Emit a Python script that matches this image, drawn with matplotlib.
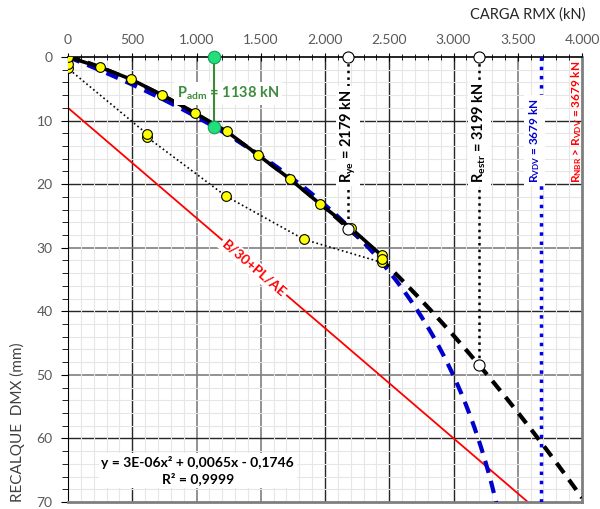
import numpy as np
import matplotlib
matplotlib.use('Agg')
import matplotlib.pyplot as plt
from matplotlib.ticker import MultipleLocator, FuncFormatter

plt.rcParams['font.family'] = ['Lato', 'DejaVu Sans']
plt.rcParams['mathtext.fontset'] = 'custom'
plt.rcParams['mathtext.rm'] = 'Lato:bold'
plt.rcParams['mathtext.it'] = 'Lato:bold'
plt.rcParams['mathtext.bf'] = 'Lato:bold'
plt.rcParams['mathtext.default'] = 'rm'

# ensaio - carregamento
load_up = [0, 250, 490, 735, 988, 1235, 1478, 1728, 1960, 2200, 2440, 2440]
settle_up = [0.0, 1.6, 3.5, 6.0, 8.8, 11.7, 15.4, 19.2, 23.1, 26.9, 31.2, 31.8]
# descarregamento
load_down = [2440, 1837, 1230, 615, 615, 0, 0]
settle_down = [32.3, 28.7, 21.9, 12.6, 12.1, 1.8, 1.1]

# linha de tendencia (polinomial) e Van der Veen
fit_coef = [2.72e-6, 0.0065, -0.1746]
R_vdv = 3679
a_vdv = 0.0337

# reta B/30 + PL/AE
dav_load = [0, 4000]
dav_settle = [8.0, 77.3]

P_adm = 1138
s_adm = 11.0
R_ye, s_ye = 2179, 27.1
R_estr, s_estr = 3199, 48.5

fig = plt.figure(figsize=(6.0, 5.09), dpi=100)
ax = fig.add_axes([68/600, 1-502/509, 514/600, 445/509])

ax.set_xlim(0, 4000)
ax.set_ylim(70, 0)

# grades
ax.xaxis.set_major_locator(MultipleLocator(500))
ax.xaxis.set_minor_locator(MultipleLocator(100))
ax.yaxis.set_major_locator(MultipleLocator(10))
ax.yaxis.set_minor_locator(MultipleLocator(2))
ax.grid(which='minor', color='#e6e6e6', lw=0.8, zorder=0)
for v in [500, 2000, 2500, 3000]:
    ax.axvline(v, color='#262626', lw=1.0, zorder=0.5)
for v in [1000, 1500, 3500]:
    ax.axvline(v, color='#7f7f7f', lw=1.2, zorder=0.5)
for v in [10, 20, 40, 60]:
    ax.axhline(v, color='#262626', lw=1.0, zorder=0.5)
for v in [30, 50]:
    ax.axhline(v, color='#7f7f7f', lw=1.2, zorder=0.5)

ax.xaxis.tick_top()
ax.xaxis.set_major_formatter(FuncFormatter(lambda v, p: f'{v:,.0f}'.replace(',', '.')))
ax.tick_params(axis='x', which='both', direction='inout', colors='#000000',
               labelcolor='#595959', labelsize=10, pad=5)
ax.tick_params(axis='x', which='major', length=6)
ax.tick_params(axis='x', which='minor', length=5)
ax.tick_params(axis='y', which='both', direction='out', labelcolor='#595959', labelsize=10, pad=6)
ax.tick_params(axis='y', which='major', length=5)
ax.tick_params(axis='y', which='minor', length=4)

ax.spines['top'].set_color('black')
ax.spines['top'].set_linewidth(1.2)
ax.spines['left'].set_color('black')
ax.spines['right'].set_color('#7f7f7f')
ax.spines['right'].set_linewidth(2)
ax.spines['bottom'].set_color('#7f7f7f')
ax.spines['bottom'].set_linewidth(2)

ax.set_ylabel('RECALQUE  DMX (mm)', loc='bottom', fontsize=11, color='#404040', labelpad=8)
fig.text(585/600, 1-15/509, 'CARGA RMX (kN)', ha='right', va='center', fontsize=10.5, color='#262626')

# reta de Davisson
ax.plot(dav_load, dav_settle, color='red', lw=1.3, zorder=2)
ax.text(1447, 33.2, 'B/30+PL/AE', color='red', fontweight='bold', fontsize=10,
        rotation=-40.6, ha='center', va='center', rotation_mode='anchor', zorder=3,
        bbox=dict(facecolor='white', edgecolor='none', pad=1.5))

# curvas ajustadas
pp = np.linspace(0, 4000, 400)
ax.plot(pp, np.polyval(fit_coef, pp), color='black', lw=3, ls=(0, (3, 2)), zorder=4)
pv = np.linspace(0, 3400, 400)
ax.plot(pv, -np.log(1 - pv / R_vdv) / a_vdv, color='#0000cc', lw=3, ls=(0, (3, 2)), zorder=4)

# ensaio
ax.plot(load_down, settle_down, color='black', lw=1.2, ls=':', marker='o', ms=7,
        mfc='#ffff00', mec='black', mew=0.8, zorder=5)
ax.plot(load_up, settle_up, color='black', lw=2.6, marker='o', ms=7,
        mfc='#ffff00', mec='black', mew=0.8, zorder=6)

# linhas verticais
ax.plot([R_ye, R_ye], [0, s_ye], color='black', lw=1.8, ls=':', marker='o', ms=8,
        mfc='white', mec='black', mew=0.8, zorder=7, clip_on=False)
ax.plot([R_estr, R_estr], [0, s_estr], color='black', lw=1.8, ls=':', marker='o', ms=8,
        mfc='white', mec='black', mew=0.8, zorder=7, clip_on=False)
ax.plot([R_vdv, R_vdv], [0, 70], color='#0000ee', lw=2.5, ls=':', zorder=7)

ax.text(R_ye, 19.8, r'R$_{ye}$ = 2179 kN', rotation=90, ha='center', va='bottom',
        fontsize=10.5, fontweight='bold', color='black', zorder=8,
        bbox=dict(facecolor='white', edgecolor='none', pad=2))
ax.text(R_estr, 19.8, r'R$_{estr}$ = 3199 kN', rotation=90, ha='center', va='bottom',
        fontsize=10.5, fontweight='bold', color='black', zorder=8,
        bbox=dict(facecolor='white', edgecolor='none', pad=2))
ax.text(R_vdv - 50, 19.8, r'R$_{VDV}$ = 3679 kN', rotation=90, ha='center', va='bottom',
        fontsize=8.5, fontweight='bold', color='#0000cc', zorder=8,
        bbox=dict(facecolor='white', edgecolor='none', pad=2))
ax.text(3960, 19.8, r'R$_{NBR}$ > R$_{VDV}$ = 3679 kN', rotation=90, ha='center', va='bottom',
        fontsize=8.5, fontweight='bold', color='red', zorder=8)

# carga admissivel
ax.plot([P_adm, P_adm], [0, s_adm], color='#3a8a3a', lw=1.5, marker='o', ms=9,
        mfc='#1fe07a', mec='#1a9a5a', mew=0.8, zorder=9, clip_on=False)
ax.text(1245, 5.7, r'P$_{adm}$ = 1138 kN', ha='center', va='center', fontsize=10.5,
        fontweight='bold', color='#3c8c3c', zorder=8,
        bbox=dict(facecolor='white', edgecolor='none', pad=2))

ax.text(1010, 65, 'y = 3E-06x² + 0,0065x - 0,1746\nR² = 0,9999', ha='center', va='center',
        fontsize=10, fontweight='bold', color='black', linespacing=1.3, zorder=8,
        bbox=dict(facecolor='white', edgecolor='none', pad=2))

fig.savefig('out.png', dpi=100)
